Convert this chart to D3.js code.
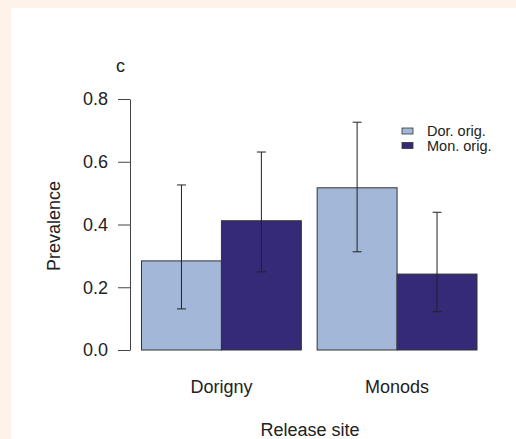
<!DOCTYPE html>
<html>
<head>
<meta charset="utf-8">
<script src="https://cdn.jsdelivr.net/npm/d3@7"></script>
<style>
  html, body { margin: 0; padding: 0; background: #fdf3ea; }
  #chart { position: absolute; left: 11px; top: 8px; width: 505px; height: 431px; background: #fff; }
  svg { position: absolute; left: 0; top: 0; }
  text { font-family: "Liberation Sans", Arial, sans-serif; fill: #222; }
</style>
</head>
<body>
<div id="chart"></div>
<svg id="plot" width="516" height="439"></svg>
<script>
// data
var sites = ["Dorigny", "Monods"];
var origins = ["Dor. orig.", "Mon. orig."];
var prevalence = [[0.284, 0.412], [0.517, 0.242]];   // [site][origin]
var ciLow = [[0.131, 0.249], [0.313, 0.122]];
var ciHigh = [[0.526, 0.631], [0.726, 0.439]];
var yTicks = [0.0, 0.2, 0.4, 0.6, 0.8];
var colors = ["#a3b8d8", "#352a78"];

var svg = d3.select("#plot");

var y = d3.scaleLinear().domain([0, 0.8]).range([350, 99]);
var x0 = d3.scaleBand().domain(sites).range([141.5, 477]).paddingInner(0.09);
var x1 = d3.scaleBand().domain(origins).range([0, x0.bandwidth()]);

// y axis
var yAxis = svg.append("g")
  .attr("transform", "translate(130,0)")
  .call(d3.axisLeft(y).tickValues(yTicks).tickFormat(d3.format(".1f"))
    .tickSize(12).tickSizeOuter(0).tickPadding(10));
yAxis.selectAll("path, line").attr("stroke", "#444");
yAxis.selectAll("text").style("font-size", "18px").style("font-family", "Liberation Sans, Arial, sans-serif").attr("fill", "#222");

// bars
var rows = [];
sites.forEach(function(s, i) {
  origins.forEach(function(o, j) {
    rows.push({site: s, origin: o, value: prevalence[i][j], lo: ciLow[i][j], hi: ciHigh[i][j], c: colors[j]});
  });
});

var bars = svg.append("g");
bars.selectAll("rect")
  .data(rows)
  .enter()
  .append("rect")
  .attr("x", d => x0(d.site) + x1(d.origin))
  .attr("y", d => y(d.value))
  .attr("width", x1.bandwidth())
  .attr("height", d => y(0) - y(d.value))
  .attr("fill", d => d.c)
  .attr("stroke", "#333")
  .attr("stroke-width", 1);

// error bars
var err = svg.append("g").attr("stroke", "#222").attr("stroke-width", 1);
rows.forEach(function(d) {
  var cx = x0(d.site) + x1(d.origin) + x1.bandwidth() / 2;
  err.append("line").attr("x1", cx).attr("x2", cx).attr("y1", y(d.lo)).attr("y2", y(d.hi));
  err.append("line").attr("x1", cx - 4.5).attr("x2", cx + 4.5).attr("y1", y(d.lo)).attr("y2", y(d.lo));
  err.append("line").attr("x1", cx - 4.5).attr("x2", cx + 4.5).attr("y1", y(d.hi)).attr("y2", y(d.hi));
});

// category labels
svg.selectAll(".site")
  .data(sites)
  .enter()
  .append("text")
  .attr("x", d => x0(d) + x0.bandwidth() / 2)
  .attr("y", 392.5)
  .attr("text-anchor", "middle")
  .style("font-size", "18px")
  .text(d => d);

svg.append("text").attr("x", 310).attr("y", 436).attr("text-anchor", "middle")
  .style("font-size", "18px").text("Release site");

svg.append("text").attr("transform", "translate(60,226) rotate(-90)")
  .attr("text-anchor", "middle").style("font-size", "18px").text("Prevalence");

svg.append("text").attr("x", 116).attr("y", 72).style("font-size", "18px").text("c");

// legend
var leg = svg.append("g").attr("transform", "translate(402,128)");
origins.forEach(function(o, j) {
  leg.append("rect").attr("x", 0).attr("y", j * 14.5).attr("width", 11).attr("height", 6)
    .attr("fill", colors[j]).attr("stroke", "#333").attr("stroke-width", 0.8);
  leg.append("text").attr("x", 25).attr("y", j * 14.5 + 8).style("font-size", "14.5px").text(o);
});
</script>
</body>
</html>
